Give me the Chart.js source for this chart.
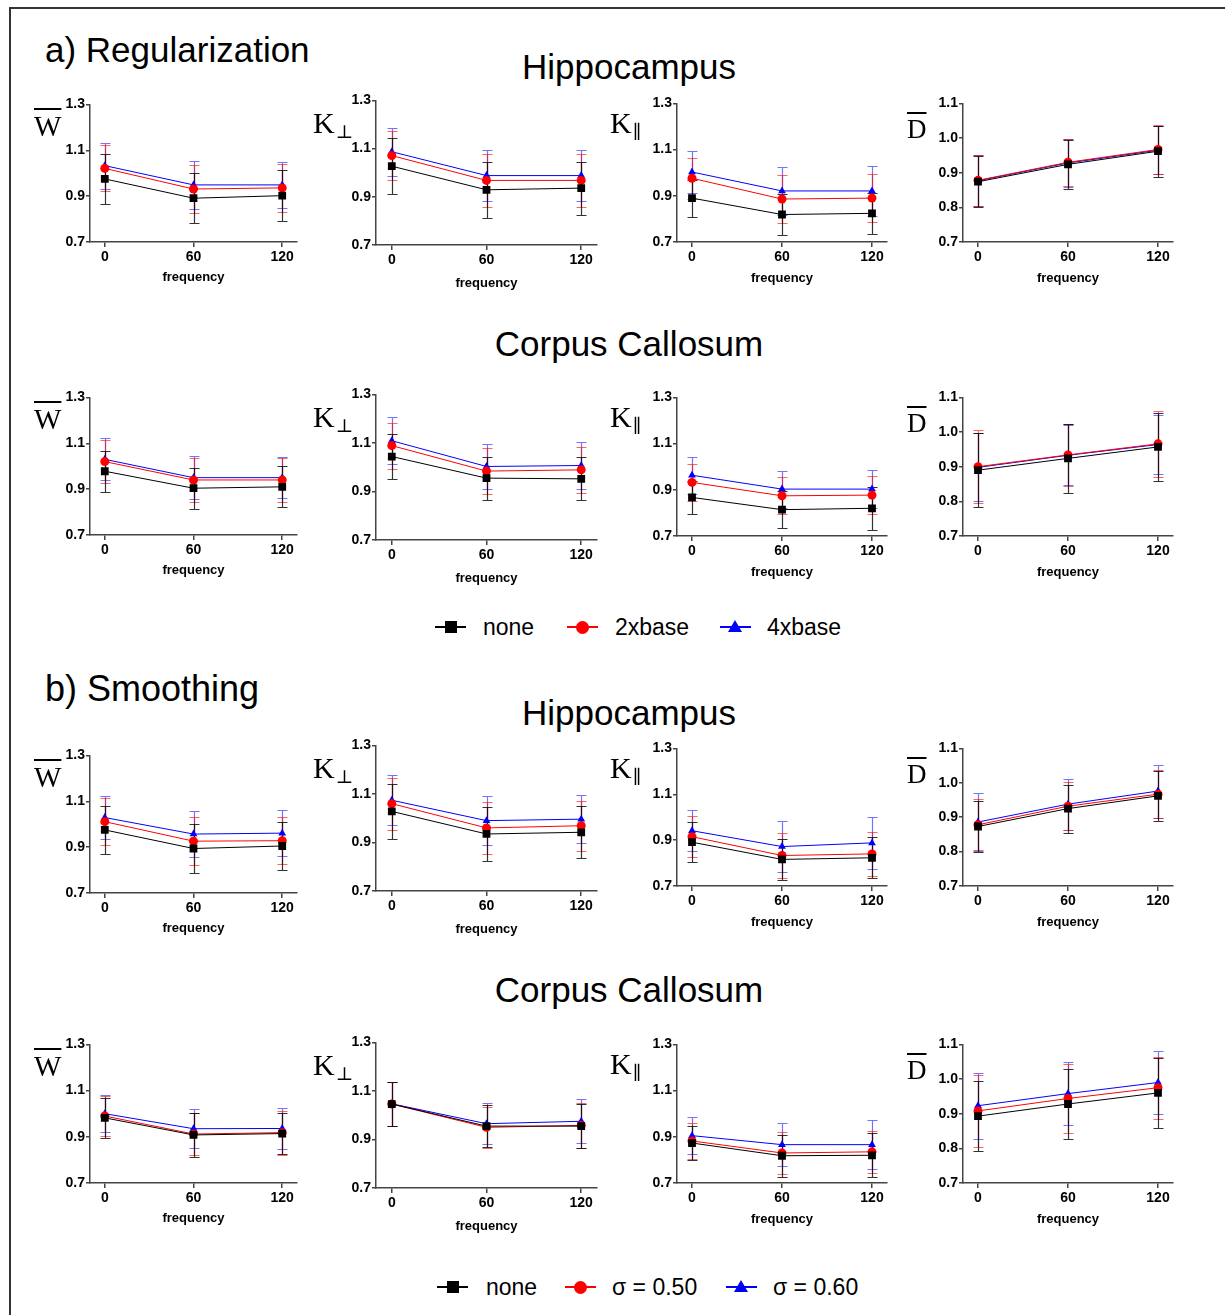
<!DOCTYPE html>
<html>
<head>
<meta charset="utf-8">
<script src="https://cdn.jsdelivr.net/npm/chart.js@4/dist/chart.umd.min.js"></script>
<style>
  html, body { margin: 0; padding: 0; background: #fff; overflow: hidden; }
  #page { position: relative; width: 1225px; height: 1315px; font-family: "Liberation Sans", Arial, sans-serif; }
  #frame { position: absolute; left: 9px; top: 7px; width: 1300px; height: 1400px; border-left: 2px solid #333; border-top: 2px solid #333; }
  .txt { position: absolute; white-space: nowrap; color: #000; line-height: 1; }
  .panel { position: absolute; }
  .ylab { position: absolute; font-family: "Liberation Serif", "DejaVu Serif", serif; line-height: 1; white-space: nowrap; }
  .ylab .bar { text-decoration: overline; text-decoration-thickness: 2px; }
  .ylab sub { font-size: 0.62em; vertical-align: -0.28em; margin-left: 1px; }
  .leg { position: absolute; height: 24px; }
  .leg .line { position: absolute; top: 11px; height: 2px; width: 31px; }
  .leg .mk { position: absolute; }
  .leg .lab { position: absolute; top: 0; font-size: 23px; line-height: 24px; white-space: nowrap; }
</style>
</head>
<body>
<div id="page">
  <div id="frame"></div>
  <div class="txt" style="left:45px; top:32px; font-size:35px;">a) Regularization</div>
  <div class="txt" style="left:429px; width:400px; text-align:center; top:49px; font-size:35px;">Hippocampus</div>
  <div class="txt" style="left:429px; width:400px; text-align:center; top:326px; font-size:35px;">Corpus Callosum</div>
  <div class="txt" style="left:45px; top:671px; font-size:36px;">b) Smoothing</div>
  <div class="txt" style="left:429px; width:400px; text-align:center; top:695px; font-size:35px;">Hippocampus</div>
  <div class="txt" style="left:429px; width:400px; text-align:center; top:972px; font-size:35px;">Corpus Callosum</div>
</div>
<script>
const freqs = [0, 60, 120];
const xTicks = [0, 60, 120];
const seriesA = ['none', '2xbase', '4xbase'];
const seriesB = ['none', 'σ = 0.50', 'σ = 0.60'];
const colors = ['#000000', '#ff0000', '#0000ff'];
const errColors = ['rgba(0,0,0,0.8)', 'rgba(255,0,0,0.6)', 'rgba(0,0,255,0.55)'];
const markers = ['rect', 'circle', 'triangle'];

// rows: none, 2nd series, 3rd series; columns: frequency 0, 60, 120
// a) Regularization - Hippocampus
const regHipW = [[0.975, 0.891, 0.902], [1.021, 0.931, 0.936], [1.033, 0.949, 0.949]];
const regHipWErr = [[0.108, 0.108, 0.11], [0.10, 0.105, 0.105], [0.10, 0.103, 0.10]];
const regHipKperp = [[1.027, 0.929, 0.936], [1.071, 0.968, 0.968], [1.087, 0.988, 0.988]];
const regHipKperpErr = [[0.115, 0.116, 0.11], [0.103, 0.11, 0.11], [0.10, 0.107, 0.105]];
const regHipKpar = [[0.89, 0.819, 0.824], [0.976, 0.886, 0.89], [1.003, 0.921, 0.921]];
const regHipKparErr = [[0.08, 0.087, 0.09], [0.088, 0.105, 0.105], [0.09, 0.105, 0.107]];
const regHipD = [[0.874, 0.924, 0.962], [0.878, 0.93, 0.967], [0.877, 0.928, 0.965]];
const regHipDErr = [[0.074, 0.071, 0.073], [0.074, 0.068, 0.07], [0.074, 0.068, 0.07]];

// a) Regularization - Corpus Callosum
const regCcW = [[0.978, 0.904, 0.91], [1.02, 0.94, 0.94], [1.03, 0.95, 0.95]];
const regCcWErr = [[0.09, 0.09, 0.09], [0.095, 0.095, 0.094], [0.092, 0.094, 0.09]];
const regCcKperp = [[1.044, 0.955, 0.952], [1.089, 0.984, 0.989], [1.109, 1.003, 1.007]];
const regCcKperpErr = [[0.094, 0.089, 0.089], [0.095, 0.095, 0.096], [0.096, 0.092, 0.095]];
const regCcKpar = [[0.867, 0.814, 0.82], [0.932, 0.874, 0.877], [0.963, 0.903, 0.903]];
const regCcKparErr = [[0.072, 0.08, 0.093], [0.08, 0.08, 0.083], [0.08, 0.08, 0.082]];
const regCcD = [[0.89, 0.924, 0.957], [0.9, 0.934, 0.966], [0.898, 0.933, 0.964]];
const regCcDErr = [[0.107, 0.1, 0.097], [0.105, 0.09, 0.095], [0.098, 0.087, 0.086]];

// b) Smoothing - Hippocampus
const smHipW = [[0.975, 0.894, 0.905], [1.011, 0.926, 0.928], [1.029, 0.957, 0.961]];
const smHipWErr = [[0.105, 0.108, 0.105], [0.103, 0.104, 0.103], [0.094, 0.10, 0.10]];
const smHipKperp = [[1.028, 0.935, 0.942], [1.06, 0.96, 0.969], [1.074, 0.99, 0.996]];
const smHipKperpErr = [[0.113, 0.113, 0.107], [0.107, 0.108, 0.103], [0.102, 0.101, 0.098]];
const smHipKpar = [[0.891, 0.816, 0.823], [0.915, 0.833, 0.84], [0.941, 0.872, 0.888]];
const smHipKparErr = [[0.087, 0.09, 0.09], [0.09, 0.097, 0.095], [0.089, 0.11, 0.113]];
const smHipD = [[0.873, 0.925, 0.962], [0.878, 0.932, 0.967], [0.886, 0.938, 0.976]];
const smHipDErr = [[0.074, 0.07, 0.072], [0.074, 0.07, 0.07], [0.083, 0.074, 0.077]];

// b) Smoothing - Corpus Callosum
const smCcW = [[0.982, 0.908, 0.914], [0.99, 0.912, 0.918], [1.0, 0.935, 0.936]];
const smCcWErr = [[0.088, 0.095, 0.09], [0.085, 0.09, 0.095], [0.08, 0.085, 0.09]];
const smCcKperp = [[1.046, 0.955, 0.955], [1.046, 0.95, 0.958], [1.047, 0.965, 0.975]];
const smCcKperpErr = [[0.09, 0.088, 0.09], [0.09, 0.085, 0.092], [0.09, 0.085, 0.09]];
const smCcKpar = [[0.873, 0.818, 0.82], [0.882, 0.83, 0.835], [0.905, 0.866, 0.866]];
const smCcKparErr = [[0.075, 0.09, 0.095], [0.078, 0.09, 0.09], [0.08, 0.093, 0.105]];
const smCcD = [[0.893, 0.928, 0.96], [0.908, 0.944, 0.975], [0.923, 0.958, 0.99]];
const smCcDErr = [[0.1, 0.1, 0.1], [0.105, 0.1, 0.09], [0.095, 0.09, 0.09]];

// y ranges per metric column
const yRanges = [
    { min: 0.7, max: 1.3, step: 0.2 },
    { min: 0.7, max: 1.3, step: 0.2 },
    { min: 0.7, max: 1.3, step: 0.2 },
    { min: 0.7, max: 1.1, step: 0.1 },
];

// layout: y-axis x, right end of x-axis, top/bottom of plot area per row
const colAxisX = [90, 376, 677, 963];
const colRight = [297, 597, 887, 1173];
const rowTops = [[103, 99, 102, 102], [396, 393, 396, 396], [754, 744, 747, 747], [1043, 1041, 1043, 1043]];
const rowBottoms = [[242, 245, 242, 242], [535, 540, 536, 536], [893, 891, 886, 886], [1183, 1188, 1183, 1183]];
const titlePadBottom = [9, 6, 8, 8];

const panels = [
    [regHipW, regHipWErr, regHipKperp, regHipKperpErr, regHipKpar, regHipKparErr, regHipD, regHipDErr],
    [regCcW, regCcWErr, regCcKperp, regCcKperpErr, regCcKpar, regCcKparErr, regCcD, regCcDErr],
    [smHipW, smHipWErr, smHipKperp, smHipKperpErr, smHipKpar, smHipKparErr, smHipD, smHipDErr],
    [smCcW, smCcWErr, smCcKperp, smCcKperpErr, smCcKpar, smCcKparErr, smCcD, smCcDErr],
];

const yLabelHtml = [
    '<span class="bar">W</span>',
    'K<sub>⊥</sub>',
    'K<sub>∥</sub>',
    '<span class="bar">D</span>',
];
const yLabelStyle = [
    { dx: -56, dy: 9, size: 29 },
    { dx: -63, dy: 9, size: 30 },
    { dx: -67, dy: 6, size: 30 },
    { dx: -56, dy: 14, size: 27 },
];

// draws the error bars behind the lines, using the chart's own scales
const errorBars = {
    id: 'errorBars',
    beforeDatasetsDraw(chart) {
        const { ctx, scales: { x, y } } = chart;
        const sets = chart.data.datasets;
        for (let i = sets.length - 1; i >= 0; i--) {
            const ds = sets[i];
            ctx.save();
            ctx.strokeStyle = ds.errorColor;
            ctx.lineWidth = 1.2;
            ds.data.forEach((pt, j) => {
                const px = Math.round(x.getPixelForValue(pt.x)) + 0.5;
                const top = Math.round(y.getPixelForValue(pt.y + ds.errors[j])) + 0.5;
                const bot = Math.round(y.getPixelForValue(pt.y - ds.errors[j])) + 0.5;
                ctx.beginPath();
                ctx.moveTo(px, top); ctx.lineTo(px, bot);
                ctx.moveTo(px - 5, top); ctx.lineTo(px + 5, top);
                ctx.moveTo(px - 5, bot); ctx.lineTo(px + 5, bot);
                ctx.stroke();
            });
            ctx.restore();
        }
    }
};

const page = document.getElementById('page');
const Y_W = 44, PAD_T = 8, PAD_R = 6, X_H = 52;
const tickFont = { family: '"Liberation Sans", Arial, sans-serif', size: 14, weight: 'bold' };
const titleFont = { family: '"Liberation Sans", Arial, sans-serif', size: 13, weight: 'bold' };

panels.forEach((rowData, r) => {
    for (let c = 0; c < 4; c++) {
        const vals = rowData[c * 2], errs = rowData[c * 2 + 1];
        const top = rowTops[r][c], bottom = rowBottoms[r][c];
        const left = colAxisX[c] - Y_W;
        const w = colRight[c] - colAxisX[c] + Y_W + PAD_R;
        const h = bottom - top + PAD_T + X_H;

        const div = document.createElement('div');
        div.className = 'panel';
        div.style.left = left + 'px';
        div.style.top = (top - PAD_T) + 'px';
        const canvas = document.createElement('canvas');
        canvas.width = w; canvas.height = h;
        canvas.style.width = w + 'px'; canvas.style.height = h + 'px';
        div.appendChild(canvas);
        page.appendChild(div);

        const lab = document.createElement('div');
        lab.className = 'ylab';
        lab.innerHTML = yLabelHtml[c];
        lab.style.left = (colAxisX[c] + yLabelStyle[c].dx) + 'px';
        lab.style.top = (top + yLabelStyle[c].dy) + 'px';
        lab.style.fontSize = yLabelStyle[c].size + 'px';
        page.appendChild(lab);

        const names = r < 2 ? seriesA : seriesB;
        const datasets = vals.map((series, s) => ({
            label: names[s],
            data: series.map((v, k) => ({ x: freqs[k], y: v })),
            errors: errs[s],
            errorColor: errColors[s],
            borderColor: colors[s],
            backgroundColor: colors[s],
            borderWidth: 1,
            pointStyle: markers[s],
            pointRadius: s === 0 ? 5.5 : (s === 1 ? 4.5 : 4.5),
            pointBorderWidth: 0,
            tension: 0,
        }));

        const yr = yRanges[c];
        new Chart(canvas.getContext('2d'), {
            type: 'line',
            data: { datasets: datasets },
            plugins: [errorBars],
            options: {
                responsive: false,
                animation: false,
                devicePixelRatio: 1,
                layout: { padding: { left: 0, top: PAD_T, right: PAD_R, bottom: 0 } },
                plugins: { legend: { display: false }, tooltip: { enabled: false } },
                scales: {
                    x: {
                        type: 'linear',
                        min: -10,
                        max: 130,
                        afterBuildTicks: scale => { scale.ticks = xTicks.map(v => ({ value: v })); },
                        afterFit: scale => { scale.height = X_H; },
                        grid: { drawOnChartArea: false, drawTicks: true, tickLength: 5, color: '#444', lineWidth: 1.5 },
                        border: { display: true, color: '#444', width: 1.5 },
                        ticks: { color: '#000', font: tickFont, padding: 2, maxRotation: 0 },
                        title: { display: true, text: 'frequency', color: '#000', font: titleFont, padding: { top: 0, bottom: titlePadBottom[c] } },
                    },
                    y: {
                        min: yr.min,
                        max: yr.max,
                        afterBuildTicks: scale => {
                            const t = [];
                            for (let v = yr.min; v <= yr.max + 1e-9; v += yr.step) t.push({ value: +v.toFixed(2) });
                            scale.ticks = t;
                        },
                        afterFit: scale => { scale.width = Y_W; },
                        grid: { drawOnChartArea: false, drawTicks: true, tickLength: 4, color: '#444', lineWidth: 1.5 },
                        border: { display: true, color: '#444', width: 1.5 },
                        ticks: { color: '#000', font: tickFont, padding: 1, callback: v => v.toFixed(1) },
                    },
                },
            },
        });
    }
});

// legends (HTML, under each section)
const legendTops = [615, 1275];
const legendLineX = [[435, 567, 720], [437, 565, 726]];
const legendTextX = [[483, 615, 767], [486, 612, 773]];
[seriesA, seriesB].forEach((names, li) => {
    names.forEach((name, s) => {
        const item = document.createElement('div');
        item.className = 'leg';
        item.style.left = legendLineX[li][s] + 'px';
        item.style.top = legendTops[li] + 'px';
        const line = document.createElement('div');
        line.className = 'line';
        line.style.left = '0px';
        line.style.background = colors[s];
        item.appendChild(line);
        const mk = document.createElement('div');
        mk.className = 'mk';
        if (s === 0) {
            Object.assign(mk.style, { left: '10px', top: '6px', width: '12px', height: '12px', background: colors[s] });
        } else if (s === 1) {
            Object.assign(mk.style, { left: '9px', top: '6px', width: '13px', height: '13px', borderRadius: '50%', background: colors[s] });
        } else {
            Object.assign(mk.style, { left: '8px', top: '5px', width: '0', height: '0', borderLeft: '7px solid transparent', borderRight: '7px solid transparent', borderBottom: '12px solid ' + colors[s] });
        }
        item.appendChild(mk);
        const lab = document.createElement('div');
        lab.className = 'lab';
        lab.style.left = (legendTextX[li][s] - legendLineX[li][s]) + 'px';
        lab.textContent = name;
        item.appendChild(lab);
        page.appendChild(item);
    });
});
</script>
</body>
</html>
